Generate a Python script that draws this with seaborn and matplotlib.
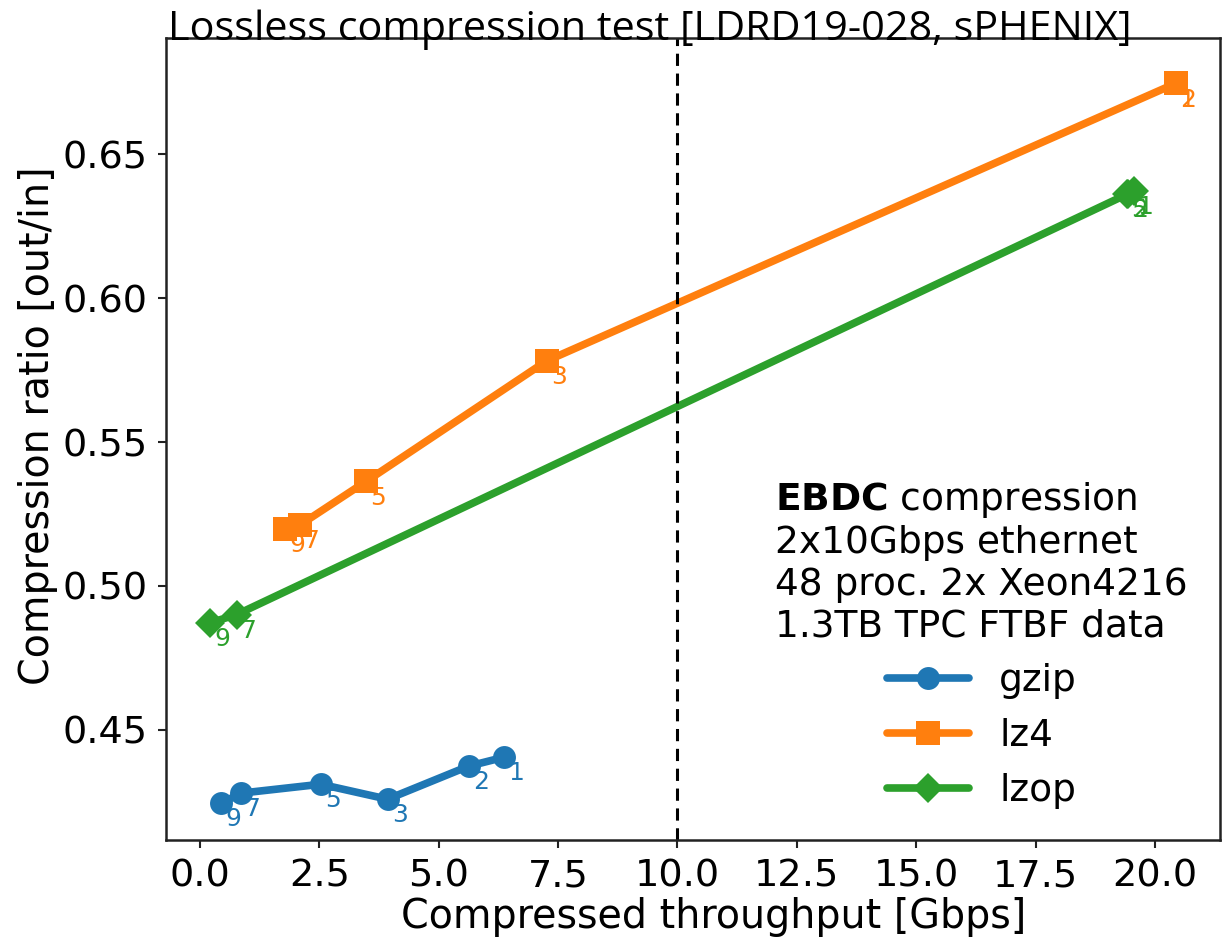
import matplotlib
matplotlib.use("Agg")
import matplotlib.pyplot as plt
import seaborn as sns
import pandas as pd

# ---- data ----
gzip_levels = ["9", "7", "5", "3", "2", "1"]
gzip_throughput = [0.45, 0.86, 2.53, 3.93, 5.63, 6.37]
gzip_ratio = [0.4244, 0.4279, 0.4310, 0.4258, 0.4373, 0.4404]

lz4_levels = ["9", "7", "5", "3", "2", "1"]
lz4_throughput = [1.78, 2.09, 3.48, 7.26, 20.43, 20.43]
lz4_ratio = [0.5197, 0.5211, 0.5363, 0.5782, 0.6747, 0.6747]

lzop_levels = ["9", "7", "5", "2", "1"]
lzop_throughput = [0.21, 0.77, 19.42, 19.43, 19.55]
lzop_ratio = [0.4871, 0.4900, 0.6362, 0.6364, 0.6372]

x_ticks = [0.0, 2.5, 5.0, 7.5, 10.0, 12.5, 15.0, 17.5, 20.0]
y_ticks = [0.45, 0.50, 0.55, 0.60, 0.65]

sns.set_style("ticks")
plt.rcParams["font.family"] = "sans-serif"
plt.rcParams["font.sans-serif"] = ["DejaVu Sans"]
plt.rcParams["text.color"] = "black"
plt.rcParams["axes.labelcolor"] = "black"
plt.rcParams["xtick.color"] = "black"
plt.rcParams["ytick.color"] = "black"
plt.rcParams["mathtext.fontset"] = "dejavusans"

fig = plt.figure(figsize=(12.23, 9.43), dpi=100)
ax = fig.add_axes([0.1357, 0.1092, 0.8618, 0.8505])

series = [
    ("gzip", gzip_throughput, gzip_ratio, gzip_levels, "#1f77b4", "o", 16.5),
    ("lz4", lz4_throughput, lz4_ratio, lz4_levels, "#ff7f0e", "s", 17.5),
    ("lzop", lzop_throughput, lzop_ratio, lzop_levels, "#2ca02c", "D", 15),
]

for name, xs, ys, levels, col, mk, ms in series:
    df = pd.DataFrame({"x": xs, "y": ys})
    sns.lineplot(data=df, x="x", y="y", sort=False, ax=ax, color=col,
                 marker=mk, markersize=ms, markeredgewidth=0, linewidth=5.5,
                 label=name)
    for xv, yv, lv in zip(xs, ys, levels):
        ax.annotate(lv, (xv, yv), xytext=(3, -3), textcoords="offset points",
                    ha="left", va="top", color=col, fontsize=18)

ax.axvline(10.0, color="black", linestyle="--", linewidth=2.2, dashes=(4, 2.5))

ax.set_xlim(-0.71, 21.36)
ax.set_ylim(0.4116, 0.6905)
ax.set_xticks(x_ticks)
ax.set_yticks(y_ticks)
ax.set_xticklabels([f"{v:.1f}" for v in x_ticks])
ax.set_yticklabels([f"{v:.2f}" for v in y_ticks])
ax.tick_params(labelsize=27.5, length=6, width=1.5, color="#222222", pad=7)
for s in ax.spines.values():
    s.set_linewidth(1.8)
    s.set_color("#222222")
    s.set_visible(True)

ax.set_xlabel("Compressed throughput [Gbps]", fontsize=28.5)
ax.set_ylabel("Compression ratio [out/in]", fontsize=28.5)
ax.xaxis.set_label_coords(0.52, -0.071)
ax.yaxis.set_label_coords(-0.1025, 0.517)

leg = ax.legend(
    title=r"$\bf{EBDC}$ compression" + "\n2x10Gbps ethernet\n48 proc. 2x Xeon4216\n1.3TB TPC FTBF data",
    loc="lower right", bbox_to_anchor=(0.984, 0.0204), frameon=False,
    fontsize=27, title_fontsize=27, handlelength=2.2, labelspacing=0.5,
    borderaxespad=0.0, handletextpad=0.8)

fig.text(0.137, 0.99, "Lossless compression test [LDRD19-028, sPHENIX]",
         ha="left", va="top", fontsize=29.8,
         family=["Liberation Sans Narrow", "Open Sans", "DejaVu Sans"])

fig.savefig("out.png", dpi=100)
